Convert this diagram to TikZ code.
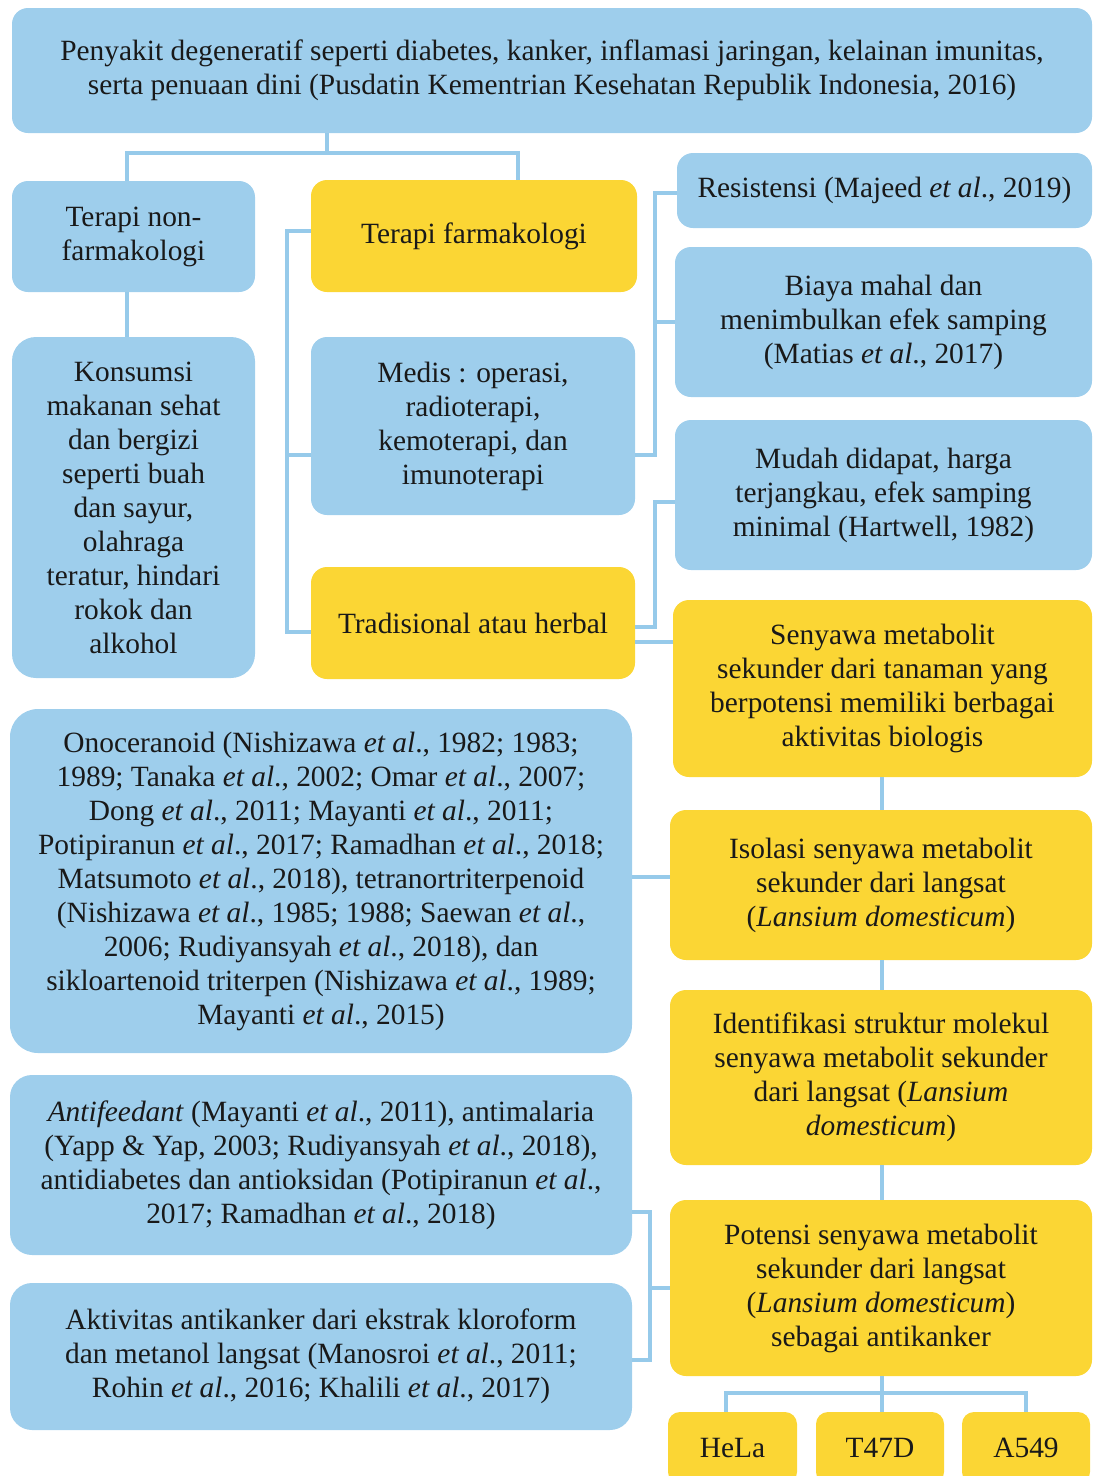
\documentclass[tikz,border=0pt]{standalone}
\usepackage{fontspec}
\setmainfont{Liberation Serif}
\definecolor{bluefill}{RGB}{158,206,236}
\definecolor{yelfill}{RGB}{251,214,52}
\definecolor{linec}{RGB}{150,202,234}
\begin{document}
\begin{tikzpicture}[x=1pt,y=-1pt,
 box/.style={rounded corners=16pt, inner sep=0pt, align=center, font=\fontsize{29.4}{34}\selectfont, text=black!90},
 bbox/.style={box, fill=bluefill},
 ybox/.style={box, fill=yelfill},
 conn/.style={draw=linec, line width=3.5pt}]
\useasboundingbox (0,0) rectangle (1094,1476);
% nodes
\node[bbox, minimum width=1080pt, minimum height=125pt] (top) at (552,70.5) {Penyakit degeneratif seperti diabetes, kanker, inflamasi jaringan, kelainan imunitas,\\serta penuaan dini (Pusdatin Kementrian Kesehatan Republik Indonesia, 2016)};
\node[bbox, minimum width=243pt, minimum height=111pt] (nonfarm) at (133.5,236.5) {Terapi non-\\farmakologi};
\node[ybox, minimum width=326pt, minimum height=112pt] (farm) at (474,236) {Terapi farmakologi};
\node[bbox, minimum width=415pt, minimum height=75pt] (resist) at (884.5,190.5) {Resistensi (Majeed \textit{et al}., 2019)};
\node[bbox, minimum width=417pt, minimum height=150pt] (biaya) at (883.5,322) {Biaya mahal dan\\menimbulkan efek samping\\(Matias \textit{et al}., 2017)};
\node[bbox, minimum width=324pt, minimum height=178pt] (medis) at (473,426) {Medis : operasi,\\radioterapi,\\kemoterapi, dan\\imunoterapi};
\node[bbox, minimum width=417pt, minimum height=150pt] (mudah) at (883.5,495) {Mudah didapat, harga\\terjangkau, efek samping\\minimal (Hartwell, 1982)};
\node[ybox, minimum width=324pt, minimum height=112pt] (trad) at (473,623) {Tradisional atau herbal};
\node[ybox, minimum width=419pt, minimum height=177pt] (senyawa) at (882.5,688.5) {Senyawa metabolit\\sekunder dari tanaman yang\\berpotensi memiliki berbagai\\aktivitas biologis};
\node[bbox, minimum width=243pt, minimum height=341pt, rounded corners=24pt] (konsumsi) at (133.5,507.5) {Konsumsi\\makanan sehat\\dan bergizi\\seperti buah\\dan sayur,\\olahraga\\teratur, hindari\\rokok dan\\alkohol};
\node[bbox, minimum width=622pt, minimum height=344pt, rounded corners=28pt] (onoc) at (321,881) {Onoceranoid (Nishizawa \textit{et al}., 1982; 1983;\\1989; Tanaka \textit{et al}., 2002; Omar \textit{et al}., 2007;\\Dong \textit{et al}., 2011; Mayanti \textit{et al}., 2011;\\Potipiranun \textit{et al}., 2017; Ramadhan \textit{et al}., 2018;\\Matsumoto \textit{et al}., 2018), tetranortriterpenoid\\(Nishizawa \textit{et al}., 1985; 1988; Saewan \textit{et al}.,\\2006; Rudiyansyah \textit{et al}., 2018), dan\\sikloartenoid triterpen (Nishizawa \textit{et al}., 1989;\\Mayanti \textit{et al}., 2015)};
\node[ybox, minimum width=422pt, minimum height=150pt] (isolasi) at (881,885) {Isolasi senyawa metabolit\\sekunder dari langsat\\(\textit{Lansium domesticum})};
\node[ybox, minimum width=422pt, minimum height=175pt] (ident) at (881,1077.5) {Identifikasi struktur molekul\\senyawa metabolit sekunder\\dari langsat (\textit{Lansium}\\\textit{domesticum})};
\node[bbox, minimum width=622pt, minimum height=180pt, rounded corners=22pt] (antif) at (321,1165) {\textit{Antifeedant} (Mayanti \textit{et al}., 2011), antimalaria\\(Yapp \& Yap, 2003; Rudiyansyah \textit{et al}., 2018),\\antidiabetes dan antioksidan (Potipiranun \textit{et al}.,\\2017; Ramadhan \textit{et al}., 2018)};
\node[ybox, minimum width=422pt, minimum height=176pt] (potensi) at (881,1288) {Potensi senyawa metabolit\\sekunder dari langsat\\(\textit{Lansium domesticum})\\sebagai antikanker};
\node[bbox, minimum width=622pt, minimum height=147pt, rounded corners=22pt] (aktiv) at (321,1356.5) {Aktivitas antikanker dari ekstrak kloroform\\dan metanol langsat (Manosroi \textit{et al}., 2011;\\Rohin \textit{et al}., 2016; Khalili \textit{et al}., 2017)};
\node[ybox, minimum width=129pt, minimum height=72pt, rounded corners=12pt] (hela) at (732.5,1448) {HeLa};
\node[ybox, minimum width=128pt, minimum height=72pt, rounded corners=12pt] (t47d) at (880,1448) {T47D};
\node[ybox, minimum width=128pt, minimum height=72pt, rounded corners=12pt] (a549) at (1026,1448) {A549};
% connectors
\coordinate (jT) at (327,153);
\coordinate (cA) at (127,153);
\coordinate (cB) at (518,153);
\draw[conn] (top.south -| jT) -- (jT);
\draw[conn] (nonfarm.north -| cA) -- (cA) -- (cB) -- (farm.north -| cB);
\draw[conn] (nonfarm.south -| cA) -- (konsumsi.north -| cA);
\coordinate (lF) at (287,231);
\coordinate (lM) at (287,455);
\coordinate (lT) at (287,632);
\draw[conn] (farm.west |- lF) -- (lF) -- (lT) -- (trad.west |- lT);
\draw[conn] (lM) -- (medis.west |- lM);
\coordinate (r1R) at (655,193);
\coordinate (r1B) at (655,322);
\coordinate (r1M) at (655,455);
\draw[conn] (medis.east |- r1M) -- (r1M) -- (r1R) -- (resist.west |- r1R);
\draw[conn] (r1B) -- (biaya.west |- r1B);
\coordinate (r2U) at (655,502);
\coordinate (r2T) at (655,627);
\draw[conn] (trad.east |- r2T) -- (r2T) -- (r2U) -- (mudah.west |- r2U);
\coordinate (tS) at (650,642);
\draw[conn] (trad.east |- tS) -- (senyawa.west |- tS);
\coordinate (vx) at (882,0);
\draw[conn] (senyawa.south -| vx) -- (isolasi.north -| vx);
\draw[conn] (isolasi.south -| vx) -- (ident.north -| vx);
\draw[conn] (ident.south -| vx) -- (potensi.north -| vx);
\coordinate (oI) at (650,877);
\draw[conn] (onoc.east |- oI) -- (isolasi.west |- oI);
\coordinate (bA) at (650,1212);
\coordinate (bP) at (650,1288);
\coordinate (bK) at (650,1360);
\draw[conn] (antif.east |- bA) -- (bA) -- (bK) -- (aktiv.east |- bK);
\draw[conn] (bP) -- (potensi.west |- bP);
\coordinate (bm) at (882,1393);
\coordinate (bh) at (726,1393);
\coordinate (ba) at (1026,1393);
\draw[conn] (potensi.south -| bm) -- (bm);
\draw[conn] (hela.north -| bh) -- (bh) -- (ba) -- (a549.north -| ba);
\draw[conn] (bm) -- (t47d.north -| bm);
\end{tikzpicture}
\end{document}
